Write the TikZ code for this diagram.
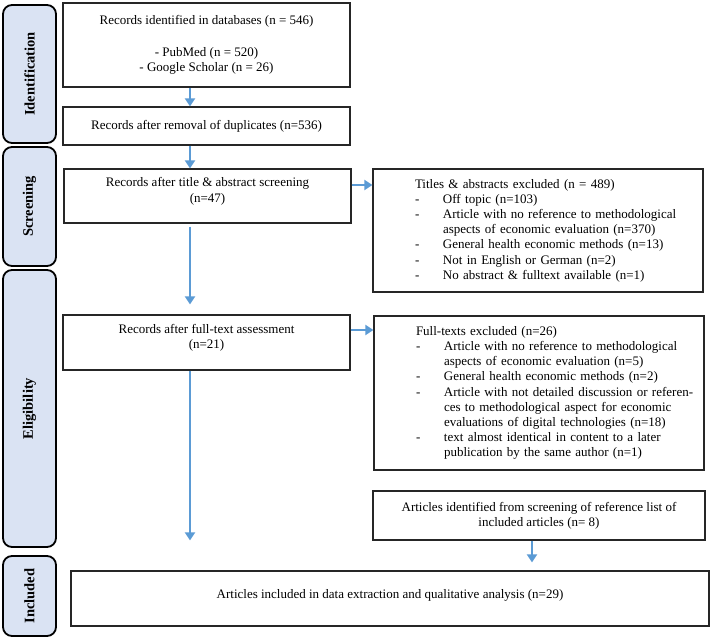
\documentclass[tikz,border=0pt]{standalone}
\usepackage{fontspec}
\setmainfont{Liberation Serif}
\usetikzlibrary{arrows.meta}

\definecolor{phasefill}{RGB}{218,227,243}
\definecolor{flowblue}{RGB}{91,155,213}

\newcommand{\exhead}[1]{\hspace*{38pt}#1}
\newcommand{\exitem}[1]{\hspace*{38pt}\makebox[28pt][l]{-}#1}
\newcommand{\excont}[1]{\hspace*{66pt}#1}

\tikzset{
    phasebox/.style={draw=black, line width=1.8pt, rounded corners=9pt, fill=phasefill,
        rotate=90, minimum height=53pt, font=\fontsize{14.5}{16}\selectfont\bfseries},
    midbox/.style={draw=black!85, line width=1.2pt, minimum width=287pt, align=center},
    sidebox/.style={draw=black!85, line width=1.2pt, text width=322pt, inner xsep=4pt, align=left},
    flow/.style={draw=flowblue, line width=2.3pt, -{Triangle[width=10pt,length=8pt]}},
}

\begin{document}
\begin{tikzpicture}[x=1pt, y=-1pt, font=\fontsize{13}{15.2}\selectfont]
    \useasboundingbox[fill=white] (0,0) rectangle (711,639);

    % phases
    \node[phasebox, minimum width=138pt] (ident) at (29.5,74) {Identification};
    \node[phasebox, minimum width=119pt] (screen) at (29.5,206.5) {Screening};
    \node[phasebox, minimum width=277pt] (elig) at (29.5,408.5) {Eligibility};
    \node[phasebox, minimum width=80pt] (incl) at (29.5,596) {Included};

    % main column
    \node[midbox, minimum height=84pt] (recid) at (206.5,45)
        {Records identified in databases (n = 546)\\[17pt]
         - PubMed (n = 520)\\
         - Google Scholar (n = 26)};
    \node[midbox, minimum height=38pt] (recdup) at (206.5,126)
        {Records after removal of duplicates (n=536)};
    \node[midbox, minimum height=54pt] (recscr) at (207.5,196)
        {Records after title \& abstract screening\\(n=47)\\[-3pt]\mbox{}};
    \node[midbox, minimum height=55pt] (recfull) at (206.5,342.5)
        {Records after full-text assessment\\(n=21)\\[-3pt]\mbox{}};

    % exclusions
    \node[sidebox, minimum height=123pt] (exabs) at (538,230.5)
        {\exhead{Titles \& abstracts excluded (n = 489)}\\
         \exitem{Off topic (n=103)}\\
         \exitem{Article with no reference to methodological}\\
         \excont{aspects of economic evaluation (n=370)}\\
         \exitem{General health economic methods (n=13)}\\
         \exitem{Not in English or German (n=2)}\\
         \exitem{No abstract \& fulltext available (n=1)}};
    \node[sidebox, minimum height=154pt] (exfull) at (539,393)
        {\exhead{Full-texts excluded (n=26)}\\
         \exitem{Article with no reference to methodological}\\
         \excont{aspects of economic evaluation (n=5)}\\
         \exitem{General health economic methods (n=2)}\\
         \exitem{Article with not detailed discussion or referen-}\\
         \excont{ces to methodological aspect for economic}\\
         \excont{evaluations of digital technologies (n=18)}\\
         \exitem{text almost identical in content to a later}\\
         \excont{publication by the same author (n=1)}};
    \node[midbox, minimum width=332pt, minimum height=49pt] (refs) at (539,515.5)
        {Articles identified from screening of reference list of\\included articles (n= 8)};

    \node[midbox, minimum width=638pt, minimum height=55pt] (final) at (390,598.5)
        {Articles included in data extraction and qualitative analysis (n=29)\\[-6pt]\mbox{}};

    % arrows
    \draw[flow] ([xshift=-16.5pt]recid.south) -- ([xshift=-16.5pt]recid.south |- recdup.north);
    \draw[flow] ([xshift=-16.5pt]recdup.south) -- ([xshift=-16.5pt]recdup.south |- recscr.north);
    \draw[flow, shorten >=10pt] ([xshift=-17.5pt,yshift=-3pt]recscr.south) -- ([xshift=-17.5pt]recscr.south |- recfull.north);
    \draw[flow, shorten >=30pt] ([xshift=-16.5pt]recfull.south) -- ([xshift=-16.5pt]recfull.south |- final.north);
    \draw[flow] ([yshift=11pt]recscr.east) -- ([yshift=11pt]recscr.east -| exabs.west);
    \draw[flow] ([yshift=12.5pt]recfull.east) -- ([yshift=12.5pt]recfull.east -| exfull.west);
    \draw[flow, shorten >=8pt] ([xshift=-7pt]refs.south) -- ([xshift=-7pt]refs.south |- final.north);
\end{tikzpicture}
\end{document}
